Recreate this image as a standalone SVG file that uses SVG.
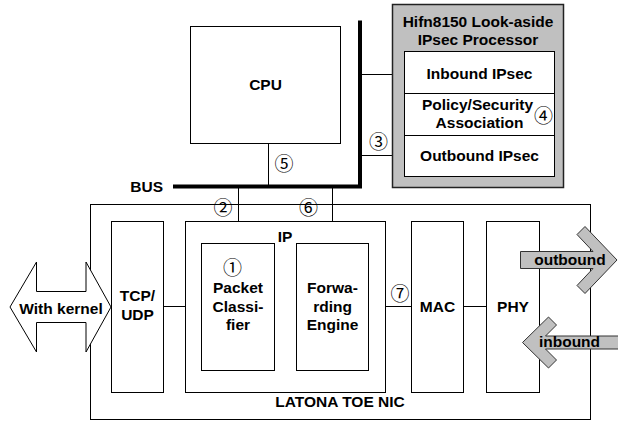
<svg xmlns="http://www.w3.org/2000/svg" width="618" height="421" viewBox="0 0 618 421">
<style>
text{font-family:"Liberation Sans",Arial,sans-serif;font-weight:bold;font-size:15.5px;fill:#000;text-anchor:middle}
.num{font-family:"Noto Sans CJK JP","DejaVu Sans",sans-serif;font-weight:normal;font-size:19px}
.box{fill:#fff;stroke:#000;stroke-width:1}
.ln{fill:none;stroke:#000;stroke-width:1}
.bus{fill:none;stroke:#000;stroke-width:4;stroke-linejoin:miter}
.garrow{fill:#c0c0c0;stroke:#333;stroke-width:1}
</style>
<rect width="618" height="421" fill="#fff"/>
<g id="nic">
<rect class="box" x="90.5" y="204.5" width="500" height="215"/>
<text x="340" y="406.5">LATONA TOE NIC</text>
</g>
<g id="connectors">
<polyline class="bus" points="173,186.5 360,186.5 360,20.5"/>
<line class="ln" x1="268.5" y1="143.5" x2="268.5" y2="185"/>
<line class="ln" x1="238.5" y1="188" x2="238.5" y2="243.5"/>
<line class="ln" x1="332.5" y1="188" x2="332.5" y2="243.5"/>
<line class="ln" x1="362" y1="74.5" x2="404.5" y2="74.5" stroke="#444"/>
<line class="ln" x1="362" y1="155.5" x2="404.5" y2="155.5" stroke="#444"/>
<line class="ln" x1="163.5" y1="306.5" x2="201.5" y2="306.5"/>
<line class="ln" x1="274.5" y1="306.5" x2="296.5" y2="306.5"/>
<line class="ln" x1="368.5" y1="306.5" x2="411.5" y2="306.5"/>
<line class="ln" x1="463.5" y1="306.5" x2="486.5" y2="306.5"/>
<text x="163" y="191.5" style="text-anchor:end">BUS</text>
<text class="num" x="284" y="170.5">⑤</text>
<text class="num" x="378.5" y="149">③</text>
<text class="num" x="223" y="215">②</text>
<text class="num" x="308.5" y="215">⑥</text>
<text class="num" x="400" y="300.5">⑦</text>
</g>
<g id="cpu">
<rect class="box" x="190.5" y="26.5" width="150" height="117"/>
<text x="265.5" y="90">CPU</text>
</g>
<g id="hifn">
<rect x="392.5" y="4.5" width="171" height="183" fill="#c0c0c0" stroke="#222" stroke-width="1.5"/>
<text x="478" y="26.5">Hifn8150 Look-aside</text>
<text x="478" y="45">IPsec Processor</text>
<rect class="box" x="404.5" y="51.5" width="150" height="125"/>
<line class="ln" x1="404.5" y1="93.5" x2="554.5" y2="93.5"/>
<line class="ln" x1="404.5" y1="135.5" x2="554.5" y2="135.5"/>
<text x="477.5" y="109.5">Policy/Security</text>
<text x="479.5" y="127.5">Association</text>
<text x="479.5" y="79">Inbound IPsec</text>
<text class="num" x="543.5" y="123">④</text>
<text x="479.5" y="161">Outbound IPsec</text>
</g>
<g id="tcpudp">
<rect class="box" x="111.5" y="221.5" width="52" height="171"/>
<text x="137.5" y="300.5">TCP/</text>
<text x="137.5" y="320">UDP</text>
</g>
<g id="ip">
<rect class="box" x="185.5" y="221.5" width="200" height="171"/>
<text x="285" y="242">IP</text>
</g>
<g id="classifier">
<rect class="box" x="201.5" y="243.5" width="73" height="127"/>
<text class="num" x="232.5" y="274.5">①</text>
<text x="238" y="292.5">Packet</text>
<text x="238" y="311.5">Classi-</text>
<text x="238" y="330">fier</text>
</g>
<g id="forwarding">
<rect class="box" x="296.5" y="243.5" width="72" height="127"/>
<text x="332.5" y="293">Forwa-</text>
<text x="332.5" y="311.5">rding</text>
<text x="332.5" y="330">Engine</text>
</g>
<g id="mac">
<rect class="box" x="411.5" y="221.5" width="52" height="171"/>
<text x="437.5" y="311.5">MAC</text>
</g>
<g id="phy">
<rect class="box" x="486.5" y="221.5" width="53" height="171"/>
<text x="513" y="311.5">PHY</text>
</g>
<g id="kernel">
<polygon points="10,307 36.5,262 36.5,291.5 86,291.5 86,262 111,307 86,352 86,322.5 36.5,322.5 36.5,352" fill="#fff" stroke="#000" stroke-width="1"/>
<text x="61" y="313.5">With kernel</text>
</g>
<g id="outbound">
<polygon class="garrow" points="520.5,251.5 593,251.5 577,234.5 585,226.5 617,260 585,293.5 577,285.5 593,268.5 520.5,268.5"/>
<text x="570" y="265">outbound</text>
</g>
<g id="inbound">
<polygon class="garrow" points="625,336 545.5,336 556.5,325 548.5,317 522.5,342.5 548.5,368 556.5,360 545.5,349 625,349"/>
<text x="569.5" y="347">inbound</text>
</g>
</svg>
